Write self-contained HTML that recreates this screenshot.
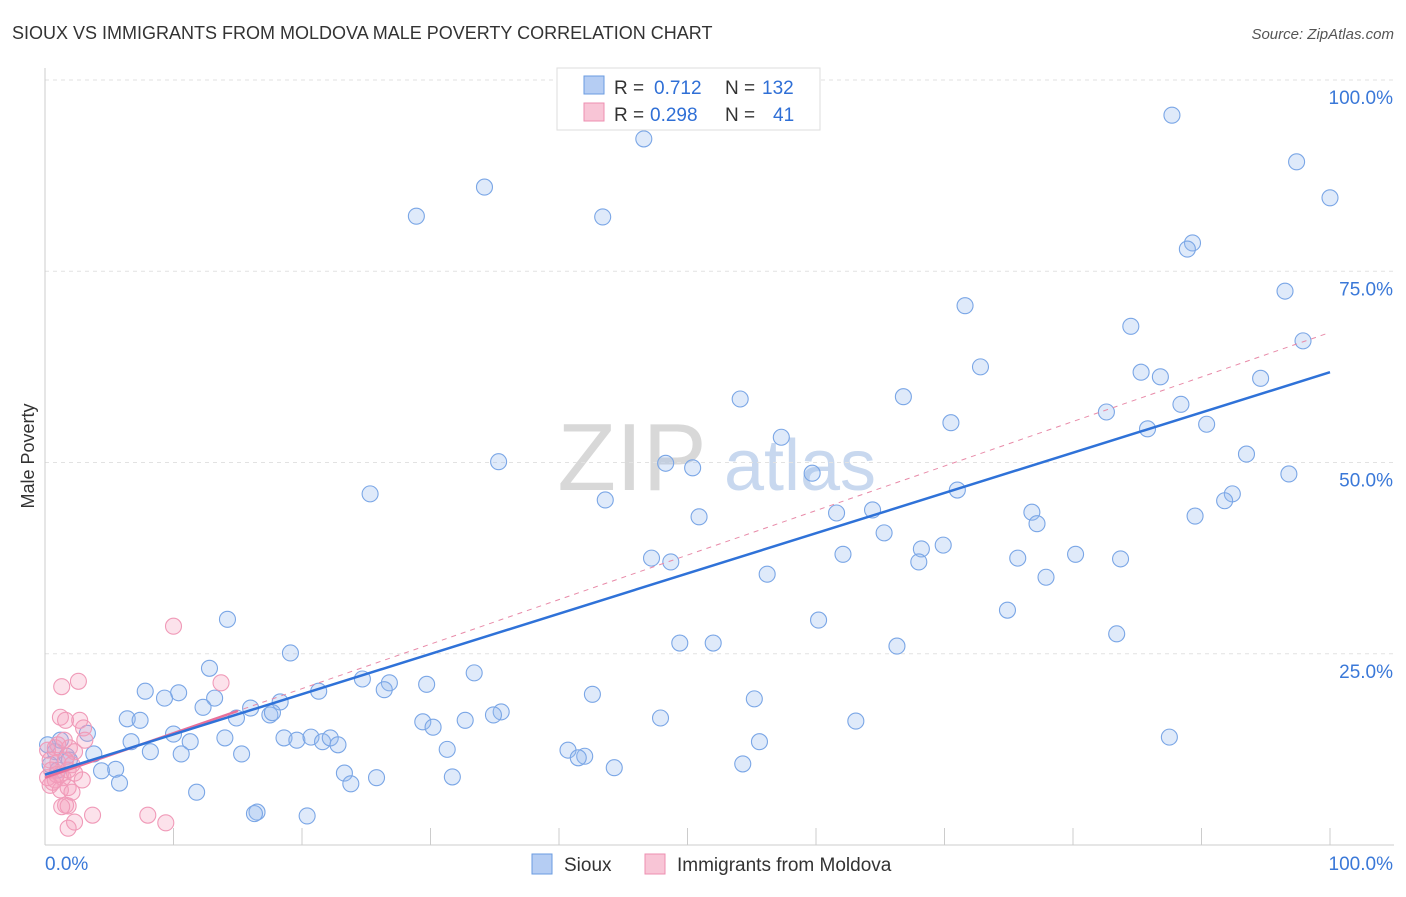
<!DOCTYPE html>
<html><head><meta charset="utf-8"><style>
body{margin:0;background:#fff;font-family:"Liberation Sans",sans-serif;}
svg text{font-family:"Liberation Sans",sans-serif;}
</style></head><body>
<svg id="chart" width="1406" height="892" xmlns="http://www.w3.org/2000/svg">
<text x="12" y="39" font-size="18" fill="#333">SIOUX VS IMMIGRANTS FROM MOLDOVA MALE POVERTY CORRELATION CHART</text>
<text x="1394" y="39" font-size="15" fill="#555" font-style="italic" text-anchor="end">Source: ZipAtlas.com</text>
<g>
<text x="632" y="490" font-size="96" fill="#d8d8d8" font-family="Liberation Serif,serif" text-anchor="middle">ZIP</text>
<text x="800" y="490" font-size="72" fill="#c8d8ef" text-anchor="middle">atlas</text>
</g>
<g id="grid"></g>
<g id="axes"></g>
<g id="marks"></g>
<g id="lines"></g>
<g>
<rect x="557" y="68" width="263" height="62" fill="#fff" stroke="#ddd"/>
<rect x="584" y="76" width="20" height="18" fill="#b5cdf3" stroke="#6a9be0"/>
<text x="614" y="94" font-size="19" fill="#333">R =</text>
<text x="654" y="94" font-size="19" fill="#2f6fd6">0.712</text>
<text x="725" y="94" font-size="19" fill="#333">N =</text>
<text x="762" y="94" font-size="19" fill="#2f6fd6">132</text>
<rect x="584" y="103" width="20" height="18" fill="#f8c5d6" stroke="#ee8fb0"/>
<text x="614" y="121" font-size="19" fill="#333">R =</text>
<text x="650" y="121" font-size="19" fill="#2f6fd6">0.298</text>
<text x="725" y="121" font-size="19" fill="#333">N =</text>
<text x="773" y="121" font-size="19" fill="#2f6fd6">41</text>
</g>
<g>
<rect x="532" y="854" width="20" height="20" fill="#b5cdf3" stroke="#6a9be0"/>
<text x="564" y="871" font-size="19" fill="#333">Sioux</text>
<rect x="645" y="854" width="20" height="20" fill="#f8c5d6" stroke="#ee8fb0"/>
<text x="677" y="871" font-size="19" fill="#333">Immigrants from Moldova</text>
</g>
<text x="34" y="456" font-size="18" fill="#333" transform="rotate(-90 34 456)" text-anchor="middle">Male Poverty</text>
</svg>
<script>
const yTicks=[25,50,75,100];
const yTickLabels=["25.0%","50.0%","75.0%","100.0%"];
const xTicks=[0,10,20,30,40,50,60,70,80,90,100];
const siouxX=[87.7,46.6,97.4,34.2,100,28.9,43.4,89.3,88.9,71.6,96.5,84.5,97.9,72.8,85.3,86.8,94.6,54.1,66.8,88.4,82.6,70.5,85.8,90.4,57.3,35.3,48.3,50.4,59.7,93.5,96.8,71.0,25.3,43.6,92.4,91.8,50.9,61.6,64.4,76.8,77.2,89.5,65.3,69.9,68.2,68.0,47.2,48.7,62.1,75.7,80.2,83.7,56.2,77.9,74.9,14.2,60.2,83.4,49.4,52.0,66.3,19.1,12.8,33.4,7.8,10.4,13.2,9.3,24.7,26.8,29.7,26.4,21.3,42.6,55.2,18.3,12.3,16.0,35.5,34.9,17.5,17.7,14.9,6.4,7.4,47.9,63.1,29.4,32.7,30.2,3.3,10.0,14.0,18.6,19.6,20.7,21.6,22.2,22.8,6.7,11.3,87.5,55.6,31.3,8.2,10.6,15.3,40.7,3.8,42.0,41.5,0.8,1.7,44.3,54.3,4.4,5.5,23.3,25.8,31.7,5.8,23.8,11.8,16.5,16.3,20.4,1.2,0.2,1.9,0.4,1.0];
const siouxY=[95.4,92.3,89.3,86.0,84.6,82.2,82.1,78.7,77.9,70.5,72.4,67.8,65.9,62.5,61.8,61.2,61.0,58.3,58.6,57.6,56.6,55.2,54.4,55.0,53.3,50.1,49.9,49.3,48.6,51.1,48.5,46.4,45.9,45.1,45.9,45.0,42.9,43.4,43.8,43.5,42.0,43.0,40.8,39.2,38.7,37.0,37.5,37.0,38.0,37.5,38.0,37.4,35.4,35.0,30.7,29.5,29.4,27.6,26.4,26.4,26.0,25.1,23.1,22.5,20.1,19.9,19.2,19.2,21.7,21.2,21.0,20.3,20.1,19.7,19.1,18.7,18.0,17.9,17.4,17.0,17.0,17.3,16.6,16.5,16.3,16.6,16.2,16.1,16.3,15.4,14.6,14.5,14.0,14.0,13.7,14.1,13.5,14.0,13.1,13.5,13.5,14.1,13.5,12.5,12.2,11.9,11.9,12.4,11.9,11.6,11.4,12.2,11.6,10.1,10.6,9.7,9.9,9.4,8.8,8.9,8.1,8.0,6.9,4.3,4.1,3.8,13.7,13.1,11.1,10.5,9.8];
const moldX=[10.0,2.6,1.3,13.7,1.2,1.6,2.7,3.0,0.2,0.8,1.9,2.3,0.4,1.0,1.6,2.1,0.5,1.2,1.8,0.2,0.8,1.4,2.3,2.9,0.4,1.2,1.8,1.6,1.8,1.3,3.7,8.0,9.4,2.3,1.8,0.9,0.6,2.1,3.1,1.5,1.0];
const moldY=[28.6,21.4,20.7,21.2,16.7,16.3,16.3,15.3,12.4,12.7,12.7,12.2,11.1,10.8,11.1,10.5,9.8,9.2,9.8,8.8,8.5,8.8,9.4,8.5,7.8,7.2,7.5,5.2,5.1,5.0,3.9,3.9,2.9,3.0,2.2,9.2,8.2,6.9,13.7,13.7,13.1];
const siouxTrend=[9.2,61.8];
const moldTrend=[8.8,67.0];
const moldSolidEnd=15;

const NS="http://www.w3.org/2000/svg";
const X0=45,X1=1330,Y0=845,Y100=80;
const sx=v=>X0+(X1-X0)*v/100;
const sy=v=>Y0-(Y0-Y100)*v/100;
function mk(tag,attrs,parent){const e=document.createElementNS(NS,tag);for(const k in attrs)e.setAttribute(k,attrs[k]);document.getElementById(parent).appendChild(e);return e;}

let g=mk('line',{x1:X0,x2:1394,y1:sy(100),y2:sy(100),stroke:'#e2e2e2','stroke-dasharray':'4,4'},'grid');


yTicks.forEach((t,i)=>{
  const l=mk('line',{x1:X0,x2:1394,y1:sy(t),y2:sy(t),stroke:'#e2e2e2','stroke-dasharray':'4,4'},'grid');
  
  
  const tx=mk('text',{x:1393,y:sy(t)+24,'font-size':19,fill:'#3a78d8','text-anchor':'end'},'axes');
  tx.textContent=yTickLabels[i];
  
  
});
let ax=mk('line',{x1:X0,x2:X0,y1:68,y2:Y0,stroke:'#ccc'},'axes');


ax=mk('line',{x1:X0,x2:1394,y1:Y0,y2:Y0,stroke:'#ccc'},'axes');


xTicks.forEach(t=>{
  const l=mk('line',{x1:sx(t),x2:sx(t),y1:828,y2:Y0,stroke:'#ccc'},'axes');
  
  
});
let xl=mk('text',{x:45,y:870,'font-size':19,fill:'#3a78d8'},'axes');xl.textContent='0.0%';


xl=mk('text',{x:1393,y:870,'font-size':19,fill:'#3a78d8','text-anchor':'end'},'axes');xl.textContent='100.0%';



siouxX.forEach((v,i)=>{
  const c=mk('circle',{cx:sx(v),cy:sy(siouxY[i]),r:8,fill:'rgba(150,185,240,0.3)',stroke:'#7aa6e6','stroke-width':1.1},'marks');
  
  
});
moldX.forEach((v,i)=>{
  const c=mk('circle',{cx:sx(v),cy:sy(moldY[i]),r:8,fill:'rgba(245,160,190,0.3)',stroke:'#f09ab8','stroke-width':1.1},'marks');
  
  
});
let ln=mk('line',{x1:sx(0),y1:sy(moldTrend[0]),x2:sx(100),y2:sy(moldTrend[1]),stroke:'#e88aa8','stroke-width':1,'stroke-dasharray':'5,5'},'lines');


const my=moldTrend[0]+(moldTrend[1]-moldTrend[0])*moldSolidEnd/100;
ln=mk('line',{x1:sx(0),y1:sy(moldTrend[0]),x2:sx(moldSolidEnd),y2:sy(my),stroke:'#e8709a','stroke-width':2.5},'lines');


ln=mk('line',{x1:sx(0),y1:sy(siouxTrend[0]),x2:sx(100),y2:sy(siouxTrend[1]),stroke:'#2f72d8','stroke-width':2.5},'lines');


</script>
</body></html>
